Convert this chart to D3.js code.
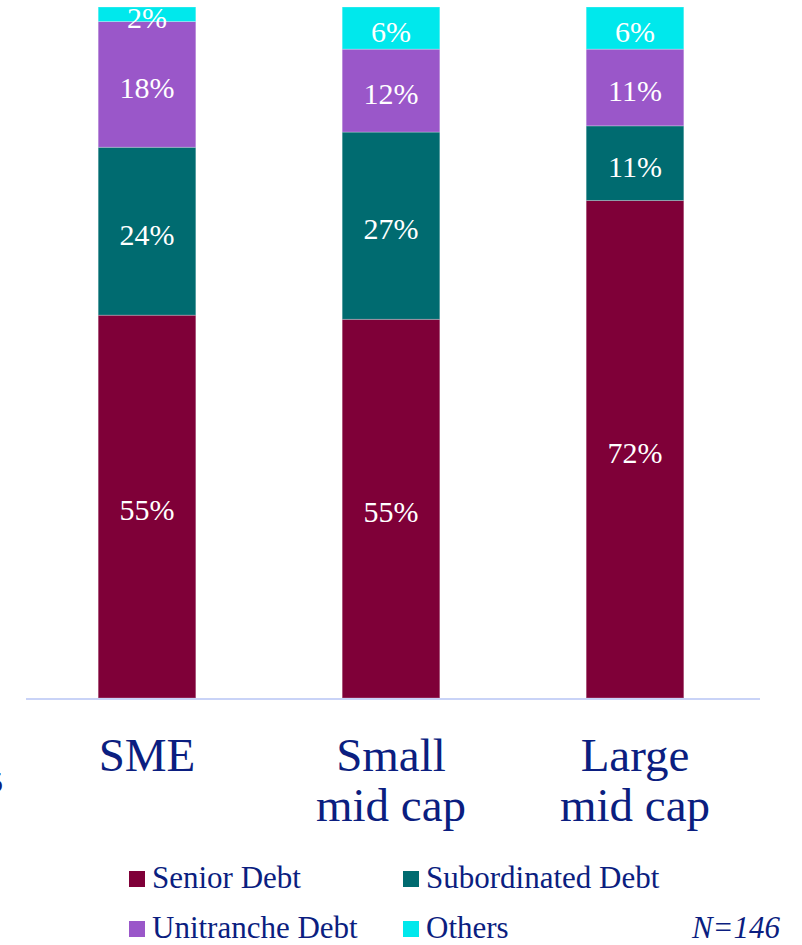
<!DOCTYPE html>
<html>
<head>
<meta charset="utf-8">
<script src="https://cdn.jsdelivr.net/npm/d3@7/dist/d3.min.js"></script>
<style>
  body { margin: 0; background: #ffffff; }
  svg text { font-family: "Liberation Serif", "DejaVu Serif", serif; }
</style>
</head>
<body>
<div id="chart"></div>
<script>
// categories (two lines each) and stacked shares in % (labels are rounded)
const categories = ["SME", "Small mid cap", "Large mid cap"];
const categoryLines = [["SME"], ["Small", "mid cap"], ["Large", "mid cap"]];
const seriesNames = ["Senior Debt", "Subordinated Debt", "Unitranche Debt", "Others"];
const seniorDebt = [55.4, 54.8, 72.0];
const subordinatedDebt = [24.3, 27.1, 10.8];
const unitrancheDebt = [18.2, 12.0, 11.1];
const others = [2.1, 6.1, 6.1];
const colors = ["#7f0038", "#006b70", "#9a57c9", "#00e8ec"];
const textColor = "#0b1e80";

const width = 802, height = 945;

let svg = d3.select("#chart")
    .append("svg")
    .attr("width", width)
    .attr("height", height);

let x = d3.scaleBand()
    .domain(categories)
    .range([25, 757])
    .paddingInner(0.6)
    .paddingOuter(0.3);

let y = d3.scaleLinear()
    .domain([0, 100])
    .range([698, 7]);

// table for the stack
let table = categories.map(function (c, i) {
    return {
        cat: c,
        "Senior Debt": seniorDebt[i],
        "Subordinated Debt": subordinatedDebt[i],
        "Unitranche Debt": unitrancheDebt[i],
        "Others": others[i]
    };
});

let stacked = d3.stack().keys(seriesNames)(table);

let layers = svg.append("g")
    .selectAll("g")
    .data(stacked)
    .enter()
    .append("g")
    .attr("fill", function (d, i) { return colors[i]; });

layers.selectAll("rect")
    .data(function (d) { return d; })
    .enter()
    .append("rect")
    .attr("x", function (d) { return x(d.data.cat); })
    .attr("y", function (d) { return y(d[1]); })
    .attr("width", x.bandwidth())
    .attr("height", function (d) { return y(d[0]) - y(d[1]); })
    .attr("stroke", "rgba(255,255,255,0.25)")
    .attr("stroke-width", 1);

layers.selectAll("text")
    .data(function (d) { return d; })
    .enter()
    .append("text")
    .attr("x", function (d) { return x(d.data.cat) + x.bandwidth() / 2; })
    .attr("y", function (d) { return (y(d[0]) + y(d[1])) / 2 + 3; })
    .attr("text-anchor", "middle")
    .attr("dominant-baseline", "central")
    .attr("fill", "#ffffff")
    .style("font-size", "30px")
    .text(function (d) { return Math.round(d[1] - d[0]) + "%"; });

// baseline
svg.append("line")
    .attr("x1", 26)
    .attr("x2", 760)
    .attr("y1", y(0) + 1)
    .attr("y2", y(0) + 1)
    .attr("stroke", "#c9d3f7")
    .attr("stroke-width", 2);

// category labels
let catLabels = svg.append("g")
    .selectAll("text")
    .data(categories)
    .enter()
    .append("text")
    .attr("text-anchor", "middle")
    .attr("fill", textColor)
    .style("font-size", "47px");

catLabels.selectAll("tspan")
    .data(function (d, i) { return categoryLines[i]; })
    .enter()
    .append("tspan")
    .attr("x", function () { return x(d3.select(this.parentNode).datum()) + x.bandwidth() / 2; })
    .attr("y", function (d, i) { return 771 + i * 50; })
    .text(function (d) { return d; });

// glyph clipped at the left edge, as in the original slide
svg.append("text")
    .attr("x", -12)
    .attr("y", 792)
    .attr("fill", textColor)
    .style("font-size", "30px")
    .text("5");

// legend
const legendPos = [[129, 888], [403, 888], [129, 938], [403, 938]];
let legend = svg.append("g")
    .selectAll("g")
    .data(seriesNames)
    .enter()
    .append("g")
    .attr("transform", function (d, i) { return "translate(" + legendPos[i][0] + "," + legendPos[i][1] + ")"; });

legend.append("rect")
    .attr("x", 0)
    .attr("y", -17)
    .attr("width", 16)
    .attr("height", 16)
    .attr("fill", function (d, i) { return colors[i]; });

legend.append("text")
    .attr("x", 23)
    .attr("y", 0)
    .attr("fill", textColor)
    .style("font-size", "31px")
    .text(function (d) { return d; });

svg.append("text")
    .attr("x", 780)
    .attr("y", 938)
    .attr("text-anchor", "end")
    .attr("fill", textColor)
    .style("font-size", "31px")
    .style("font-style", "italic")
    .text("N=146");
</script>
</body>
</html>
